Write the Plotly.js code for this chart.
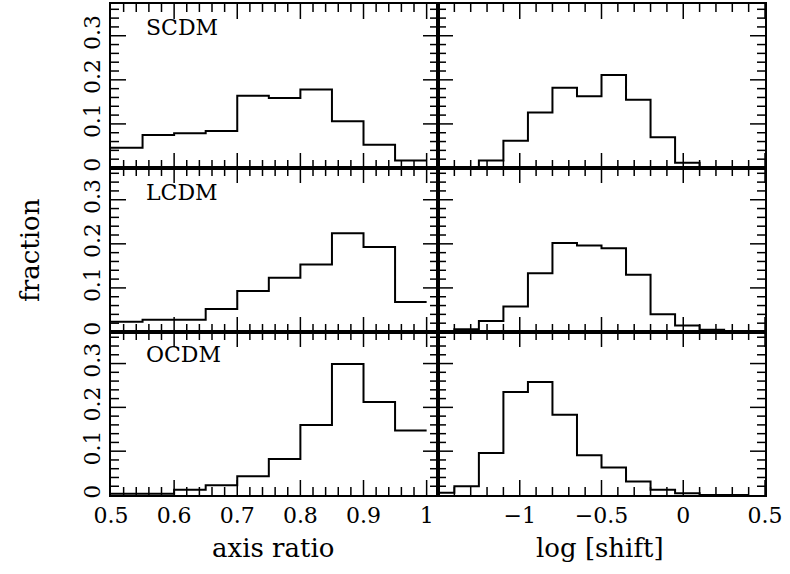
<!DOCTYPE html>
<html>
<head>
<meta charset="utf-8">
<script src="https://cdn.plot.ly/plotly-3.0.1.min.js"></script>
<style>html,body{margin:0;padding:0;background:#fff;}</style>
</head>
<body>
<div id="chart" style="width:790px;height:574px;"></div>
<script>
// ---- data ----
var models = ["SCDM", "LCDM", "OCDM"];
var ratioEdges = [0.5, 0.55, 0.6, 0.65, 0.7, 0.75, 0.8, 0.85, 0.9, 0.95, 1.0];
var shiftEdges = [-1.55, -1.4, -1.25, -1.1, -0.95, -0.8, -0.65, -0.5, -0.35, -0.2, -0.05, 0.1, 0.25, 0.4];

var ratioSCDM = [0.046, 0.075, 0.079, 0.084, 0.164, 0.159, 0.178, 0.106, 0.053, 0.017];
var ratioLCDM = [0.023, 0.028, 0.028, 0.052, 0.093, 0.123, 0.153, 0.224, 0.193, 0.068];
var ratioOCDM = [0.003, 0.003, 0.012, 0.022, 0.043, 0.082, 0.160, 0.299, 0.212, 0.147];

var shiftSCDM = [0, 0, 0.017, 0.062, 0.126, 0.182, 0.163, 0.211, 0.155, 0.070, 0.012, 0, 0];
var shiftLCDM = [0, 0.006, 0.025, 0.058, 0.133, 0.202, 0.196, 0.190, 0.130, 0.040, 0.015, 0.005, 0];
var shiftOCDM = [0.005, 0.020, 0.096, 0.235, 0.258, 0.183, 0.091, 0.063, 0.031, 0.012, 0.004, 0, 0];

var ratioTicks = [0.5, 0.6, 0.7, 0.8, 0.9, 1];
var ratioTickText = ["0.5", "0.6", "0.7", "0.8", "0.9", "1"];
var shiftTicks = [-1, -0.5, 0, 0.5];
var shiftTickText = ["\u22121", "\u22120.5", "0", "0.5"];
var fracTicks = [0, 0.1, 0.2, 0.3];
var fracTickText = ["0", "0.1", "0.2", "0.3"];

var xTitleLeft = "axis ratio";
var xTitleRight = "log [shift]";
var yTitle = "fraction";

// ---- layout geometry ----
var W = 790, H = 574;
var FONT = "DejaVu Serif, serif";
var colX = [[111, 438], [438, 765]];
var rowY = [[4, 168], [168, 332], [332, 495]];
var ratioRange = [0.5, 1.018], shiftRange = [-1.5, 0.5], fracRange = [0, 0.372];
var MAJOR = 15, MINOR = 8;

function step(edges, vals) {
  return { x: edges.slice(), y: vals.concat([vals[vals.length - 1]]) };
}
function blank(arr) { return arr.map(function () { return " "; }); }
function axisBase(vals, text, rng) {
  return {
    tickmode: "array", tickvals: vals, ticktext: text,
    ticks: "",
    showline: true, linewidth: 2, linecolor: "#000", mirror: true,
    showgrid: false, zeroline: false,
    tickfont: { family: FONT, size: 22, color: "#000" },
    range: rng
  };
}
// tick positions on a regular step inside a range (axis decoration, not data)
function stepsIn(rng, start, dt) {
  var out = [];
  for (var i = 0; ; i++) {
    var v = Math.round((start + i * dt) * 1e6) / 1e6;
    if (v > rng[1] + 1e-9) break;
    if (v > rng[0] + 1e-9) out.push(v);
  }
  return out;
}
function isMajor(v, majors) {
  for (var i = 0; i < majors.length; i++) if (Math.abs(v - majors[i]) < 1e-6) return true;
  return false;
}

var ratioData = [ratioSCDM, ratioLCDM, ratioOCDM];
var shiftData = [shiftSCDM, shiftLCDM, shiftOCDM];

var traces = [];
var shapes = [];
var layout = {
  width: W, height: H,
  margin: { l: 0, r: 0, t: 0, b: 0, autoexpand: false },
  showlegend: false, annotations: [], shapes: shapes
};

function addXTicks(sfx, rng, majors, minorStep, hPx) {
  var all = stepsIn(rng, rng[0], minorStep);
  all.forEach(function (v) {
    var len = (isMajor(v, majors) ? MAJOR : MINOR) / hPx;
    [[0, len], [1, 1 - len]].forEach(function (p) {
      shapes.push({ type: "line", xref: "x" + sfx, yref: "y" + sfx + " domain",
        x0: v, x1: v, y0: p[0], y1: p[1], layer: "above",
        line: { color: "#000", width: 1.5 } });
    });
  });
}
function addYTicks(sfx, rng, majors, minorStep, wPx) {
  var all = stepsIn(rng, rng[0], minorStep);
  all.forEach(function (v) {
    var len = (isMajor(v, majors) ? MAJOR : MINOR) / wPx;
    [[0, len], [1, 1 - len]].forEach(function (p) {
      shapes.push({ type: "line", yref: "y" + sfx, xref: "x" + sfx + " domain",
        y0: v, y1: v, x0: p[0], x1: p[1], layer: "above",
        line: { color: "#000", width: 1.5 } });
    });
  });
}

var idx = 0;
for (var r = 0; r < 3; r++) {
  for (var c = 0; c < 2; c++) {
    idx++;
    var sfx = idx === 1 ? "" : String(idx);
    var d = c === 0 ? step(ratioEdges, ratioData[r]) : step(shiftEdges, shiftData[r]);
    traces.push({
      type: "scatter", mode: "lines", x: d.x, y: d.y,
      line: { shape: "hv", color: "#000", width: 2 },
      xaxis: "x" + sfx, yaxis: "y" + sfx
    });
    var xTxt = c === 0 ? ratioTickText : shiftTickText;
    var xa = c === 0
      ? axisBase(ratioTicks, r === 2 ? xTxt : blank(xTxt), ratioRange)
      : axisBase(shiftTicks, r === 2 ? xTxt : blank(xTxt), shiftRange);
    xa.domain = [colX[c][0] / W, colX[c][1] / W];
    xa.anchor = "y" + sfx;
    var ya = axisBase(fracTicks, c === 0 ? fracTickText : blank(fracTickText), fracRange);
    ya.domain = [1 - rowY[r][1] / H, 1 - rowY[r][0] / H];
    ya.anchor = "x" + sfx;
    ya.tickangle = -90;
    layout["xaxis" + sfx] = xa;
    layout["yaxis" + sfx] = ya;

    var hPx = rowY[r][1] - rowY[r][0];
    var wPx = colX[c][1] - colX[c][0];
    if (c === 0) addXTicks(sfx, ratioRange, ratioTicks, 0.02, hPx);
    else addXTicks(sfx, shiftRange, shiftTicks, 0.1, hPx);
    addYTicks(sfx, fracRange, fracTicks, 0.02, wPx);
  }
}

// panel labels (left column subplots: 1, 3, 5)
var labelSubplots = ["", "3", "5"];
var labelYFrac = [0.857, 0.851, 0.859];
for (var k = 0; k < 3; k++) {
  layout.annotations.push({
    xref: "x" + labelSubplots[k] + " domain", yref: "y" + labelSubplots[k] + " domain",
    x: 0.101, y: labelYFrac[k],
    xanchor: "left", yanchor: "middle", text: models[k], showarrow: false,
    font: { family: FONT, size: 22, color: "#000" }
  });
}
// axis titles
layout.annotations.push({
  xref: "x5 domain", yref: "y5 domain", x: 0.494, y: -0.325,
  xanchor: "center", yanchor: "middle", text: xTitleLeft, showarrow: false,
  font: { family: FONT, size: 26, color: "#000" }
});
layout.annotations.push({
  xref: "x6 domain", yref: "y6 domain", x: 0.495, y: -0.325,
  xanchor: "center", yanchor: "middle", text: xTitleRight, showarrow: false,
  font: { family: FONT, size: 26, color: "#000" }
});
layout.annotations.push({
  xref: "x3 domain", yref: "y3 domain", x: -0.248, y: 0.5,
  xanchor: "center", yanchor: "middle", text: yTitle, showarrow: false, textangle: -90,
  font: { family: FONT, size: 26, color: "#000" }
});

Plotly.newPlot("chart", traces, layout, { staticPlot: true });
</script>
</body>
</html>
